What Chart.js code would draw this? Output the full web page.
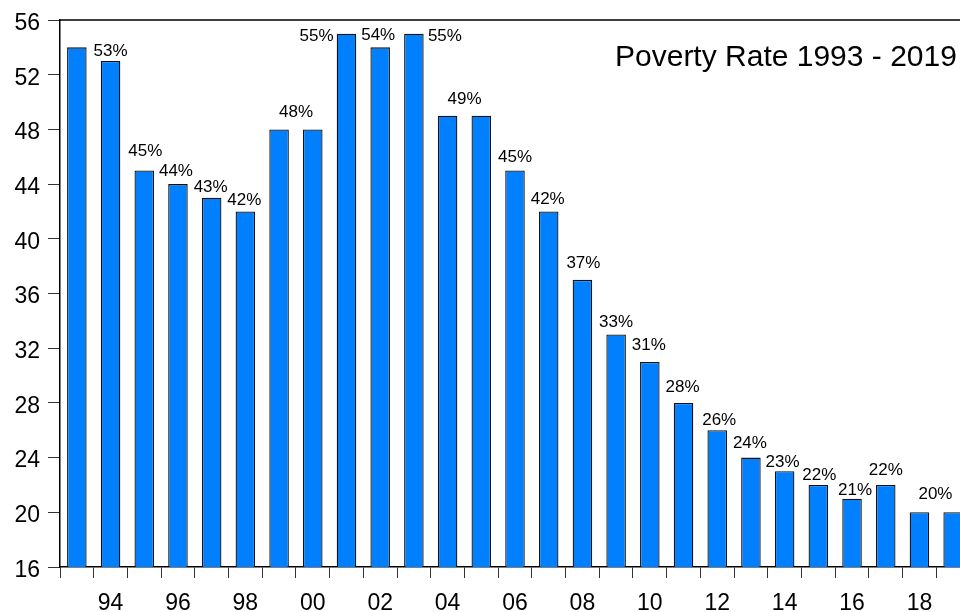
<!DOCTYPE html>
<html>
<head>
<meta charset="utf-8">
<style>
  html, body { margin: 0; padding: 0; background: #fff; overflow: hidden; }
  #wrap { width: 980px; height: 612px; }
</style>
<script src="https://cdn.jsdelivr.net/npm/chart.js@4.4.1/dist/chart.umd.min.js"></script>
</head>
<body>
<div id="wrap"><canvas id="poverty" width="980" height="612"></canvas></div>
<script>
// Poverty rate by year, 1993 - 2019 (%)
const years = [1993, 1994, 1995, 1996, 1997, 1998, 1999, 2000, 2001, 2002, 2003, 2004, 2005, 2006,
  2007, 2008, 2009, 2010, 2011, 2012, 2013, 2014, 2015, 2016, 2017, 2018, 2019];
const rates = [54, 53, 45, 44, 43, 42, 48, 48, 55, 54, 55, 49, 49, 45,
  42, 37, 33, 31, 28, 26, 24, 23, 22, 21, 22, 20, 20];
// only even years get a label under the axis
const xTickLabels = ['', '94', '', '96', '', '98', '', '00', '', '02', '', '04', '', '06',
  '', '08', '', '10', '', '12', '', '14', '', '16', '', '18', ''];
const yTicks = [16, 20, 24, 28, 32, 36, 40, 44, 48, 52, 56];

// where each value label sits relative to the top centre of its bar (null = no label)
const labelShift = [null, [0, -11], [1, -20], [-2, -14], [-1, -12], [-1, -12], [17, -18], null,
  [-30, 1], [-2, -13], [31, 1], [17, -18], null, [0, -14], [-1, -13], [1, -18], [0, -14],
  [-1, -18], [-1, -17], [2, -11], [-1, -16], [-2, -10], [1, -11], [3, -10], [0, -16], [16, -19], null];

const FONT = 'Arial, "Liberation Sans", Helvetica, sans-serif';

// value labels, plot frame and the title inside the plot
const decorations = {
  id: 'decorations',
  afterDraw(chart) {
    const { ctx, chartArea } = chart;
    const bars = chart.getDatasetMeta(0).data;
    ctx.save();
    ctx.fillStyle = '#000';
    ctx.font = '17px ' + FONT;
    ctx.textAlign = 'center';
    ctx.textBaseline = 'alphabetic';
    bars.forEach((bar, i) => {
      const s = labelShift[i];
      if (!s) return;
      ctx.fillText(rates[i] + '%', bar.x + s[0], bar.y + s[1] + 6);
    });

    // top and right edges of the frame
    ctx.strokeStyle = '#000';
    ctx.lineWidth = 1.5;
    ctx.beginPath();
    ctx.moveTo(chartArea.left, chartArea.top);
    ctx.lineTo(chartArea.right, chartArea.top);
    ctx.lineTo(chartArea.right, chartArea.bottom);
    ctx.stroke();

    ctx.font = '30px ' + FONT;
    ctx.textAlign = 'left';
    ctx.fillText('Poverty Rate 1993 - 2019', 615, 66);
    ctx.restore();
  }
};

new Chart(document.getElementById('poverty'), {
  type: 'bar',
  data: {
    labels: years,
    datasets: [{
      data: rates,
      backgroundColor: '#0080ff',
      borderColor: '#111',
      borderWidth: 1.3,
      borderSkipped: false,
      categoryPercentage: 1,
      barPercentage: 0.58
    }]
  },
  options: {
    responsive: false,
    animation: false,
    layout: { padding: { top: 20, right: 10, left: 0, bottom: 0 } },
    plugins: { legend: { display: false }, tooltip: { enabled: false } },
    scales: {
      x: {
        offset: true,
        grid: { offset: true, drawOnChartArea: false, drawTicks: true, tickLength: 11, color: '#333', lineWidth: 1 },
        border: { display: true, color: '#000', width: 1.5 },
        ticks: {
          autoSkip: false,
          maxRotation: 0,
          color: '#000',
          padding: 12,
          font: { family: FONT, size: 23 },
          callback: (v, i) => xTickLabels[i]
        },
        afterFit: scale => { scale.height = 45; }
      },
      y: {
        min: yTicks[0],
        max: yTicks[yTicks.length - 1],
        afterBuildTicks: scale => { scale.ticks = yTicks.map(v => ({ value: v })); },
        grid: { drawOnChartArea: false, drawTicks: true, tickLength: 12, color: '#333', lineWidth: 1 },
        border: { display: true, color: '#000', width: 1.5 },
        // empty first line nudges each number a few pixels below its tick
        ticks: {
          color: '#000',
          padding: 8,
          font: { family: FONT, size: 23, lineHeight: '7px' },
          callback: v => ['', String(v)]
        },
        afterFit: scale => { scale.width = 60; }
      }
    }
  },
  plugins: [decorations]
});
</script>
</body>
</html>
